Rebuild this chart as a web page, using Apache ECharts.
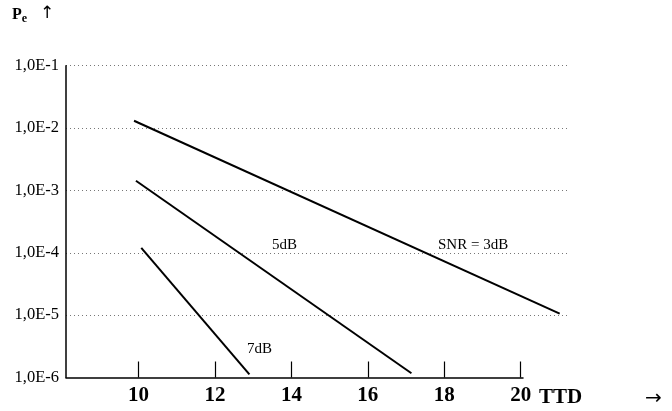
<!DOCTYPE html>
<html><head><meta charset="utf-8">
<script src="https://cdn.jsdelivr.net/npm/echarts@6/dist/echarts.min.js"></script>
<style>html,body{margin:0;padding:0;background:#fff}#c{width:672px;height:411px}</style>
</head><body><div id="c"></div>
<script>
// ---- data ----
const xTicks = [10, 12, 14, 16, 18, 20];
const yTickLabels = ['1,0E-6', '1,0E-5', '1,0E-4', '1,0E-3', '1,0E-2', '1,0E-1'];
const snr3_x = [9.88, 21.02];
const snr3_y = [1.31e-2, 1.06e-5];
const snr5_x = [9.93, 17.14];
const snr5_y = [1.43e-3, 1.17e-6];
const snr7_x = [10.07, 12.9];
const snr7_y = [1.2e-4, 1.12e-6];
const seriesNames = ['SNR = 3dB', '5dB', '7dB'];

const pair = (xs, ys) => xs.map((x, i) => [x, ys[i]]);
const serif = '"Liberation Serif", "DejaVu Serif", serif';

const chart = echarts.init(document.getElementById('c'), null, {renderer: 'canvas'});
const lineStyle = {color: '#000', width: 2};
chart.setOption({
  animation: false,
  backgroundColor: '#fff',
  grid: [
    {left: 66, right: 102, top: 65.7, bottom: 33.5},
    {left: 66, right: 149, top: 65.7, bottom: 33.5}
  ],
  xAxis: [
    {gridIndex: 0, type: 'value', min: 8.1, max: 21.29, show: false, splitLine: {show: false}},
    {gridIndex: 1, type: 'value', min: 8.1, max: 20.06,
     axisLine: {show: true, lineStyle: {color: '#000', width: 1.5}},
     axisTick: {show: true, inside: true, length: 16, customValues: xTicks, lineStyle: {color: '#000', width: 1.2}},
     axisLabel: {show: true, customValues: xTicks, color: '#000', fontFamily: serif, fontWeight: 'bold', fontSize: 21, margin: 8},
     splitLine: {show: false}}
  ],
  yAxis: [
    {gridIndex: 0, type: 'log', logBase: 10, min: 1e-6, max: 1e-1,
     axisLine: {show: true, lineStyle: {color: '#000', width: 1.5}},
     axisTick: {show: false},
     axisLabel: {color: '#000', fontFamily: serif, fontSize: 16.5, margin: 7,
       padding: [0, 0, 4, 0],
       formatter: v => yTickLabels[Math.round(Math.log10(v)) + 6]},
     splitLine: {show: true, showMinLine: false, showMaxLine: true, lineStyle: {color: '#777', type: [1, 3], width: 1}}},
    {gridIndex: 1, type: 'log', logBase: 10, min: 1e-6, max: 1e-1, show: false, splitLine: {show: false}}
  ],
  series: [
    {name: seriesNames[0], type: 'line', xAxisIndex: 0, yAxisIndex: 0, data: pair(snr3_x, snr3_y), symbol: 'none', lineStyle},
    {name: seriesNames[1], type: 'line', xAxisIndex: 0, yAxisIndex: 0, data: pair(snr5_x, snr5_y), symbol: 'none', lineStyle},
    {name: seriesNames[2], type: 'line', xAxisIndex: 0, yAxisIndex: 0, data: pair(snr7_x, snr7_y), symbol: 'none', lineStyle}
  ],
  graphic: [
    {type: 'text', left: 12, top: 7, style: {text: '{p|P}{s|e}', rich: {
      p: {fontFamily: serif, fontWeight: 'bold', fontSize: 16, fill: '#000'},
      s: {fontFamily: serif, fontWeight: 'bold', fontSize: 12, fill: '#000', padding: [7, 0, 0, 0]}}}},
    {type: 'text', left: 40, top: 5, style: {text: '↑', fontFamily: '"DejaVu Sans", sans-serif', fontSize: 17, fill: '#000'}},
    {type: 'text', left: 272, top: 238, style: {text: seriesNames[1], fontFamily: serif, fontSize: 15, fill: '#000'}},
    {type: 'text', left: 438, top: 238, style: {text: seriesNames[0], fontFamily: serif, fontSize: 15, fill: '#000'}},
    {type: 'text', left: 247, top: 342, style: {text: seriesNames[2], fontFamily: serif, fontSize: 15, fill: '#000'}},
    {type: 'text', left: 539, top: 387, style: {text: 'TTD', fontFamily: serif, fontWeight: 'bold', fontSize: 21, fill: '#000'}},
    {type: 'text', left: 645, top: 389, style: {text: '→', fontFamily: '"DejaVu Sans", sans-serif', fontSize: 20, fill: '#000'}}
  ]
});
</script></body></html>
